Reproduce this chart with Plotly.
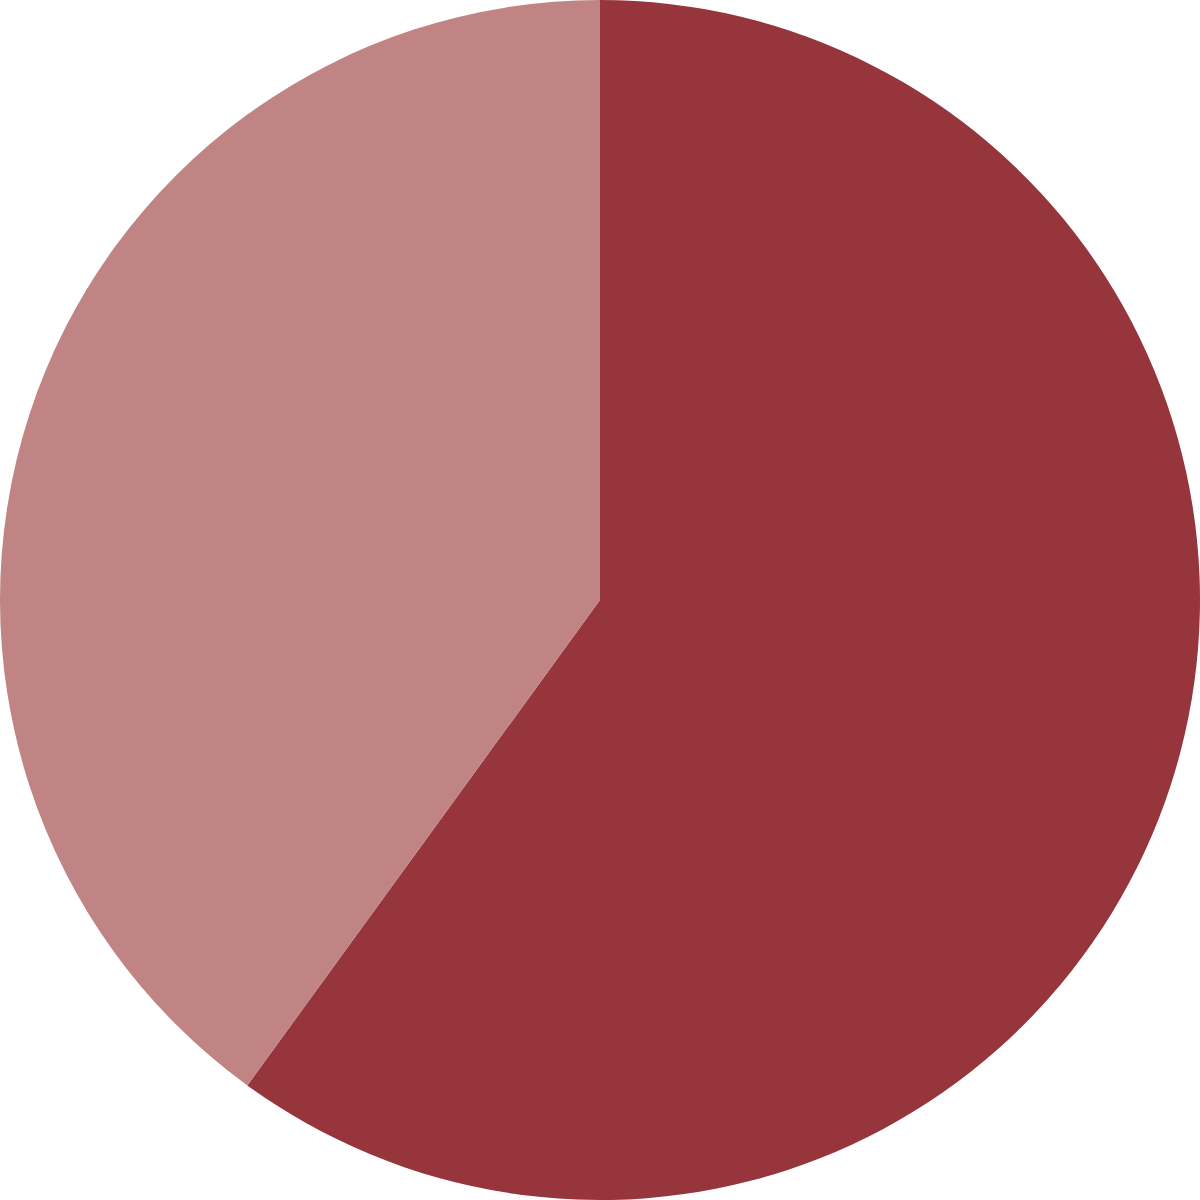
import plotly.graph_objects as go

labels = ["A", "B"]
values = [60, 40]
colors = ["#96353C", "#C08484"]

fig = go.Figure(go.Pie(
    labels=labels,
    values=values,
    sort=False,
    direction="clockwise",
    rotation=0,
    marker=dict(colors=colors, line=dict(width=0)),
    textinfo="none",
    hoverinfo="label+percent",
    showlegend=False,
))
fig.update_layout(
    width=1200, height=1200,
    margin=dict(l=0, r=0, t=0, b=0),
    paper_bgcolor="white",
    plot_bgcolor="white",
)
fig.write_html(
    "out.html",
    config={"displayModeBar": False},
    post_script="document.body.style.margin='0';document.body.style.overflow='hidden';",
)
